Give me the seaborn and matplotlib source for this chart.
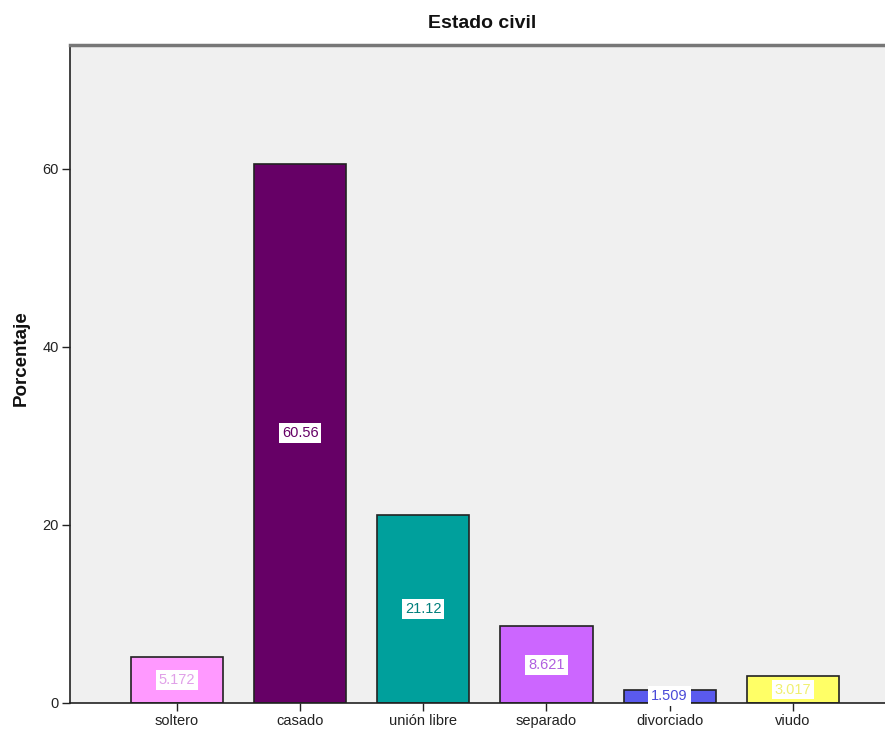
import matplotlib
matplotlib.use("Agg")
import matplotlib.pyplot as plt
import seaborn as sns
import pandas as pd

categorias = ["soltero", "casado", "unión libre", "separado", "divorciado", "viudo"]
porcentajes = [5.172, 60.56, 21.12, 8.621, 1.509, 3.017]
etiquetas = ["5.172", "60.56", "21.12", "8.621", "1.509", "3.017"]
colores = ["#FF99FF", "#660066", "#00A09C", "#CC66FF", "#5A5AEE", "#FFFF66"]
colores_texto = ["#E0A0E8", "#660066", "#007F7C", "#B060E0", "#4A4AD8", "#F0F070"]

df = pd.DataFrame({"Estado civil": categorias, "Porcentaje": porcentajes})

sns.set_theme(style="white")
plt.rcParams["font.family"] = ["Liberation Sans", "DejaVu Sans"]

fig = plt.figure(figsize=(8.85, 7.32), dpi=100)
ax = fig.add_axes([70 / 885, 29 / 732, 1 - 70 / 885 + 0.01, 658 / 732])
ax.set_facecolor("#F0F0F0")

sns.barplot(data=df, x="Estado civil", y="Porcentaje", hue="Estado civil",
            palette=colores, order=categorias, legend=False,
            width=0.747, edgecolor="#222222", linewidth=1.2, saturation=1, ax=ax)

for i, (v, lab) in enumerate(zip(porcentajes, etiquetas)):
    ax.text(i, v / 2, lab, ha="center", va="center", fontsize=10.5,
            color=colores_texto[i],
            bbox=dict(boxstyle="square,pad=0.2", facecolor="white", edgecolor="none"))

ax.set_xlim(-0.8685, 5.82)
ax.set_ylim(0, 73.9)
ax.set_yticks([0, 20, 40, 60])
ax.set_yticklabels(["0", "20", "40", "60"], fontsize=10.5, color="#222222")
ax.set_xticks(range(len(categorias)))
ax.set_xticklabels(categorias, fontsize=10.5, color="#222222")
ax.tick_params(axis="both", which="both", length=6, width=1, color="#222222",
               direction="out", bottom=True, left=True, pad=2)
ax.set_xlabel("")
ax.set_ylabel("Porcentaje", fontsize=13.5, fontweight="bold", color="#111111")
ax.yaxis.set_label_coords(-0.049, 0.524)
ax.set_title("Estado civil", fontsize=14, fontweight="bold", color="#111111", pad=12)

for side in ["left", "bottom"]:
    ax.spines[side].set_color("#222222")
    ax.spines[side].set_linewidth(1.2)
ax.spines["top"].set_color("#777777")
ax.spines["top"].set_linewidth(2.5)
ax.spines["right"].set_visible(False)

fig.savefig("out.png", dpi=100, facecolor="white")
